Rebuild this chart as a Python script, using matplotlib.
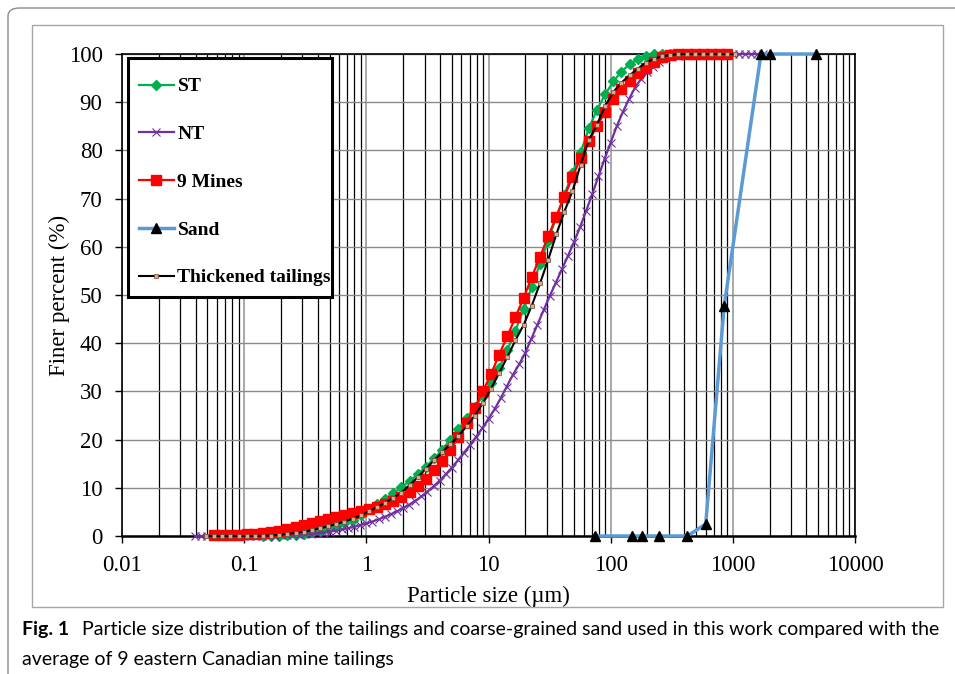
import matplotlib
matplotlib.use("Agg")
import matplotlib.pyplot as plt
from matplotlib.patches import FancyBboxPatch, Rectangle
from matplotlib.ticker import LogLocator, NullFormatter

# --- particle size data (µm) and cumulative finer percent ---
st_size = [0.143, 0.166, 0.194, 0.226, 0.264, 0.307, 0.358, 0.418, 0.487, 0.568,
           0.662, 0.773, 0.901, 1.05, 1.22, 1.43, 1.66, 1.94, 2.26, 2.64,
           3.08, 3.59, 4.18, 4.87, 5.68, 6.63, 7.72, 9.01, 10.5, 12.2,
           14.3, 16.6, 19.4, 22.6, 26.4, 30.8, 35.9, 41.8, 48.7, 56.8,
           66.3, 77.2, 90.1, 105, 122, 143, 166, 194, 226, 264,
           308, 359, 418, 487, 568]
st_finer = [0, 0, 0.05, 0.15, 0.3, 0.5, 0.8, 1.1, 1.5, 2.0,
            2.6, 3.4, 4.4, 5.5, 6.6, 7.7, 8.9, 10.1, 11.4, 12.8,
            14.4, 16.1, 17.9, 20.0, 22.2, 24.4, 26.7, 29.1, 31.8, 34.8,
            38.6, 42.6, 47.0, 51.7, 56.5, 61.3, 66.2, 70.8, 75.3, 79.6,
            84.6, 88.4, 91.6, 94.3, 96.3, 97.9, 98.9, 99.5, 99.9, 100,
            100, 100, 100, 100, 100]

nt_size = [0.0398, 0.0447, 0.0501, 0.0562, 0.0631, 0.0708, 0.0794, 0.0891,
           0.1, 0.112, 0.126, 0.141, 0.158, 0.178, 0.2, 0.224, 0.251, 0.282, 0.316, 0.355,
           0.398, 0.447, 0.501, 0.562, 0.631, 0.708, 0.794, 0.891,
           1.0, 1.12, 1.26, 1.41, 1.58, 1.78, 2.0, 2.24, 2.51, 2.82, 3.16, 3.55,
           3.98, 4.47, 5.01, 5.62, 6.31, 7.08, 7.94, 8.91,
           10.0, 11.2, 12.6, 14.1, 15.8, 17.8, 20.0, 22.4, 25.1, 28.2, 31.6, 35.5,
           39.8, 44.7, 50.1, 56.2, 63.1, 70.8, 79.4, 89.1,
           100, 112, 126, 141, 158, 178, 200, 224, 251, 282, 316, 355,
           398, 447, 501, 562, 631, 708, 794, 891,
           1000, 1122, 1259, 1413, 1585, 1778]
nt_finer = [0, 0, 0, 0, 0, 0, 0, 0,
            0, 0, 0, 0, 0.05, 0.08, 0.12, 0.17, 0.22, 0.28, 0.35, 0.45,
            0.57, 0.72, 0.9, 1.1, 1.35, 1.6, 1.9, 2.25,
            2.6, 3.0, 3.45, 3.95, 4.5, 5.1, 5.8, 6.5, 7.3, 8.2, 9.2, 10.3,
            11.5, 12.8, 14.2, 15.7, 17.3, 18.9, 20.6, 22.4,
            24.3, 26.3, 28.6, 31.0, 33.4, 35.6, 38.0, 40.9, 43.8, 46.8, 49.7, 52.5,
            55.3, 58.1, 61.0, 64.1, 67.5, 71.0, 74.6, 78.2,
            81.6, 85.0, 88.0, 90.6, 93.0, 94.9, 96.3, 97.4, 98.3, 98.9, 99.3, 99.6,
            99.8, 99.9, 100, 100, 100, 100, 100, 100,
            100, 100, 100, 100, 100, 100]

mines_size = [0.057, 0.066, 0.077, 0.090, 0.105, 0.122, 0.143, 0.166, 0.194, 0.226,
              0.264, 0.307, 0.358, 0.418, 0.487, 0.568, 0.662, 0.773, 0.901, 1.05,
              1.22, 1.43, 1.66, 1.94, 2.26, 2.64, 3.08, 3.59, 4.18, 4.87,
              5.68, 6.63, 7.72, 9.01, 10.5, 12.2, 14.3, 16.6, 19.4, 22.6,
              26.4, 30.8, 35.9, 41.8, 48.7, 56.8, 66.3, 77.2, 90.1, 105,
              122, 143, 166, 194, 226, 264, 308, 359, 418, 487,
              568, 663, 772, 901]
mines_finer = [0.2, 0.2, 0.25, 0.3, 0.35, 0.45, 0.6, 0.8, 1.1, 1.4,
               1.8, 2.3, 2.7, 3.1, 3.5, 3.9, 4.3, 4.7, 5.1, 5.5,
               6.0, 6.6, 7.3, 8.1, 9.1, 10.4, 11.9, 13.6, 15.6, 17.9,
               20.5, 23.5, 26.6, 30.1, 33.6, 37.6, 41.5, 45.4, 49.4, 53.7,
               57.9, 62.2, 66.2, 70.4, 74.5, 78.4, 81.9, 85.1, 88.0, 90.6,
               92.7, 94.5, 96.0, 97.0, 98.4, 99.4, 99.8, 100, 100, 100,
               100, 100, 100, 100]

sand_size = [75, 150, 180, 250, 425, 600, 850, 1700, 2000, 4750]
sand_finer = [0, 0, 0, 0, 0, 2.5, 47.8, 100, 100, 100]

tt_size = [0.049, 0.057, 0.066, 0.077, 0.090, 0.105, 0.122, 0.143, 0.166, 0.194,
           0.226, 0.264, 0.307, 0.358, 0.418, 0.487, 0.568, 0.662, 0.773, 0.901,
           1.05, 1.22, 1.43, 1.66, 1.94, 2.26, 2.64, 3.08, 3.59, 4.18,
           4.87, 5.68, 6.63, 7.72, 9.01, 10.5, 12.2, 14.3, 16.6, 19.4,
           22.6, 26.4, 30.8, 35.9, 41.8, 48.7, 56.8, 66.3, 77.2, 90.1,
           105, 122, 143, 166, 194, 226, 264, 308, 359, 418,
           487, 568, 663, 772, 901, 1050]
tt_finer = [0, 0, 0, 0, 0, 0, 0.02, 0.05, 0.1, 0.25,
            0.45, 0.65, 0.9, 1.2, 1.6, 2.0, 2.5, 3.0, 3.6, 4.3,
            5.1, 6.0, 6.9, 7.9, 9.0, 10.6, 12.2, 14.0, 15.7, 17.4,
            19.0, 20.7, 22.8, 25.0, 27.6, 30.6, 33.8, 37.2, 40.6, 43.8,
            47.8, 52.4, 57.3, 62.6, 67.3, 71.6, 77.0, 82.2, 85.3, 89.2,
            92.1, 94.0, 95.6, 96.9, 98.2, 99.0, 99.5, 99.8, 100, 100,
            100, 100, 100, 100, 100, 100]

x_ticks = [0.01, 0.1, 1, 10, 100, 1000, 10000]
x_tick_labels = ["0.01", "0.1", "1", "10", "100", "1000", "10000"]
y_ticks = list(range(0, 101, 10))

serif = "Liberation Serif"

W, H = 955, 674
fig = plt.figure(figsize=(W / 100, H / 100), dpi=100)

# outer rounded frame and chart frame
fig.patches.append(FancyBboxPatch((8 / W, -0.05), 1.2, 1.05 - 8 / H,
                                  boxstyle="round,pad=0,rounding_size=0.012",
                                  transform=fig.transFigure, fill=False,
                                  edgecolor="#8c8c8c", linewidth=1.0))
fig.patches.append(Rectangle((32 / W, (H - 607) / H), (943 - 32) / W, (607 - 25) / H,
                             transform=fig.transFigure, fill=False,
                             edgecolor="#a6a6a6", linewidth=1.0))

ax = fig.add_axes([122 / W, (H - 536) / H, (855 - 122) / W, (536 - 54) / H])
ax.set_xscale("log")
ax.set_xlim(0.01, 10000)
ax.set_ylim(0, 100)

# gridlines: black minor verticals, grey decade verticals and grey horizontals
ax.xaxis.set_minor_locator(LogLocator(base=10, subs=range(2, 10), numticks=100))
ax.xaxis.set_minor_formatter(NullFormatter())
ax.grid(which="minor", axis="x", color="black", linewidth=0.9)
ax.grid(which="major", axis="x", color="#9a9a9a", linewidth=1.2)
ax.grid(which="major", axis="y", color="#8a8a8a", linewidth=1.0)
ax.set_axisbelow(True)

ax.set_xticks(x_ticks)
ax.set_xticklabels(x_tick_labels, fontfamily=serif, fontsize=16.5)
ax.set_yticks(y_ticks)
ax.set_yticklabels([str(v) for v in y_ticks], fontfamily=serif, fontsize=16.5)
ax.tick_params(axis="both", which="major", direction="out", length=5, width=1, color="black")
ax.tick_params(axis="x", which="minor", length=0)
ax.tick_params(axis="x", pad=9)
ax.tick_params(axis="y", pad=9)
for s in ax.spines.values():
    s.set_color("black")
    s.set_linewidth(1.2)
ax.spines["bottom"].set_linewidth(1.8)

ax.plot(st_size, st_finer, color="#00B050", linewidth=1.6, marker="D",
        markersize=5, label="ST", zorder=3, clip_on=False)
ax.plot(nt_size, nt_finer, color="#7030A0", linewidth=1.6, marker="x",
        markersize=6, markeredgewidth=0.8, label="NT", zorder=3, clip_on=False)
ax.plot(mines_size, mines_finer, color="#FF0000", linewidth=1.6, marker="s",
        markersize=7, label="9 Mines", zorder=3, clip_on=False)
ax.plot(sand_size, sand_finer, color="#5B9BD5", linewidth=2.5, marker="^",
        markersize=7, markerfacecolor="black", markeredgecolor="black",
        label="Sand", zorder=3, clip_on=False)
ax.plot(tt_size, tt_finer, color="black", linewidth=1.5, marker="s",
        markersize=2.6, markerfacecolor="#d9a98a", markeredgecolor="#6b4a3a",
        markeredgewidth=0.5, label="Thickened tailings", zorder=4, clip_on=False)

ax.set_xlabel("Particle size (µm)", fontfamily=serif, fontsize=16.5, labelpad=7)
ax.set_ylabel("Finer percent (%)", fontfamily=serif, fontsize=16.5, labelpad=-1)

# legend box drawn separately so its size can be set exactly
legend_box = Rectangle((0.0082, 0.4959), 0.2783, 0.4958, transform=ax.transAxes,
                       facecolor="white", edgecolor="black", linewidth=2.2,
                       zorder=9, clip_on=False)
ax.add_patch(legend_box)
leg = ax.legend(loc="upper left", bbox_to_anchor=(0.008, 0.973), frameon=False,
                prop={"family": serif, "weight": "bold", "size": 14},
                handlelength=1.8, handletextpad=0.2, labelspacing=1.55,
                borderpad=0.55, borderaxespad=0)
leg.set_zorder(10)

# caption
cap_font = "Lato"
t1 = fig.text(22 / W, 1 - 630 / H, "Fig. 1", fontfamily=cap_font, fontweight="bold",
              fontsize=14, va="center", ha="left")
fig.canvas.draw()
bb = t1.get_window_extent()
fig.text((bb.x1 + 13) / W, 1 - 630 / H,
         "Particle size distribution of the tailings and coarse-grained sand used in this work compared with the",
         fontfamily=cap_font, fontsize=14.0, va="center", ha="left")
fig.text(22 / W, 1 - 659 / H, "average of 9 eastern Canadian mine tailings",
         fontfamily=cap_font, fontsize=14.0, va="center", ha="left")

fig.savefig("out.png", dpi=100)
